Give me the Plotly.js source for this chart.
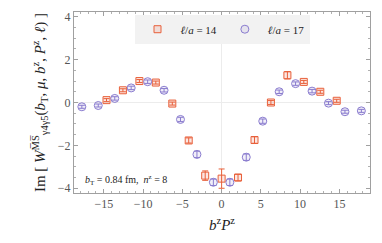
<!DOCTYPE html>
<html><head><meta charset="utf-8">
<script src="https://cdn.plot.ly/plotly-3.0.1.min.js"></script>
<style>html,body{margin:0;padding:0;background:#fff}#chart{width:382px;height:243px}</style>
</head><body><div id="chart"></div>
<script>
// l/a = 14 (orange squares)
const x14 = [-14.66, -12.57, -10.47, -8.38, -6.28, -4.19, -2.09, 0, 2.09, 4.19, 6.28, 8.38, 10.47, 12.57, 14.66];
const y14 = [0.11, 0.57, 1.00, 0.93, -0.05, -1.77, -3.41, -3.55, -3.50, -1.75, 0.00, 1.27, 0.96, 0.50, 0.08];
const e14 = [0.07, 0.07, 0.07, 0.07, 0.07, 0.12, 0.22, 0.45, 0.15, 0.15, 0.09, 0.17, 0.07, 0.07, 0.07];
// l/a = 17 (purple circles)
const x17 = [-17.80, -15.71, -13.61, -11.52, -9.42, -7.33, -5.24, -3.14, -1.05, 1.05, 3.14, 5.24, 7.33, 9.42, 11.52, 13.61, 15.71, 17.80];
const y17 = [-0.20, -0.14, 0.19, 0.68, 0.97, 0.57, -0.79, -2.42, -3.72, -3.72, -2.55, -0.87, 0.50, 0.88, 0.53, -0.03, -0.43, -0.39];
const e17 = [0.07, 0.07, 0.08, 0.08, 0.08, 0.08, 0.1, 0.15, 0.15, 0.15, 0.15, 0.1, 0.08, 0.08, 0.08, 0.07, 0.07, 0.07];
const xTicks = [-15, -10, -5, 0, 5, 10, 15];
const yTicks = [-4, -2, 0, 2, 4];
const names = ['<i>ℓ</i>/<i>a</i> = 14', '<i>ℓ</i>/<i>a</i> = 17'];

const orange = '#e8603a', purple = '#8a7ccf';
const serif = 'Liberation Serif, DejaVu Serif, serif';

const traces = [
  {x: x14, y: y14, type: 'scatter', mode: 'markers', name: names[0],
   error_y: {type: 'data', array: e14, visible: true, color: orange, thickness: 1, width: 3},
   marker: {symbol: 'square', size: 7, color: 'rgba(232,96,58,0.15)', line: {color: orange, width: 1}}},
  {x: x17, y: y17, type: 'scatter', mode: 'markers', name: names[1],
   error_y: {type: 'data', array: e17, visible: true, color: purple, thickness: 1, width: 3},
   marker: {symbol: 'circle', size: 8, color: 'rgba(138,124,207,0.12)', line: {color: purple, width: 1}}}
];

const axisCommon = {
  showgrid: false, zeroline: true, zerolinecolor: '#ececec', zerolinewidth: 1,
  showline: true, linecolor: '#a0a0a0', linewidth: 1, mirror: 'allticks',
  ticks: 'inside', ticklen: 4, tickcolor: '#a0a0a0',
  tickfont: {family: serif, size: 12, color: '#555'}
};

const layout = {
  width: 382, height: 243,
  margin: {l: 74, r: 12, t: 12, b: 50},
  paper_bgcolor: '#fff', plot_bgcolor: '#fff',
  showlegend: true,
  legend: {orientation: 'h', x: 0.5, xanchor: 'center', y: 0.985, yanchor: 'top',
           bgcolor: '#f2f2f2', font: {family: serif, size: 11, color: '#222'},
           itemwidth: 36, tracegroupgap: 0},
  xaxis: Object.assign({}, axisCommon, {
    range: [-18.8, 18.9], tickvals: xTicks, ticktext: xTicks.map(v => v < 0 ? '−' + (-v) : String(v)),
    minor: {dtick: 1, ticks: 'inside', ticklen: 2, tickcolor: '#b0b0b0'},
    title: {text: '<i>b</i><sup>z</sup><i>P</i><sup>z</sup>', font: {family: serif, size: 15, color: '#222'}, standoff: 9}
  }),
  yaxis: Object.assign({}, axisCommon, {
    range: [-4.22, 4.22], tickvals: yTicks, ticktext: yTicks.map(v => v < 0 ? '−' + (-v) : String(v)),
    minor: {dtick: 0.5, ticks: 'inside', ticklen: 2, tickcolor: '#b0b0b0'},
    title: {text: 'Im [ <i>W</i><sup>M̅S̅</sup><sub>γ4γ5</sub>(<i>b</i><sub>T</sub>, <i>μ</i>, <i>b</i><sup>z</sup>, <i>P</i><sup>z</sup>, <i>ℓ</i>) ]',
            font: {family: serif, size: 15, color: '#222'}, standoff: 8}
  }),
  annotations: [{
    xref: 'paper', yref: 'paper', x: 0.03, y: 0.07, xanchor: 'left', yanchor: 'middle',
    text: '<i>b</i><sub>T</sub> = 0.84 fm,  <i>n</i><sup>z</sup> = 8', showarrow: false,
    font: {family: serif, size: 10, color: '#222'}
  }]
};

Plotly.newPlot('chart', traces, layout, {displayModeBar: false, staticPlot: true});
</script></body></html>
